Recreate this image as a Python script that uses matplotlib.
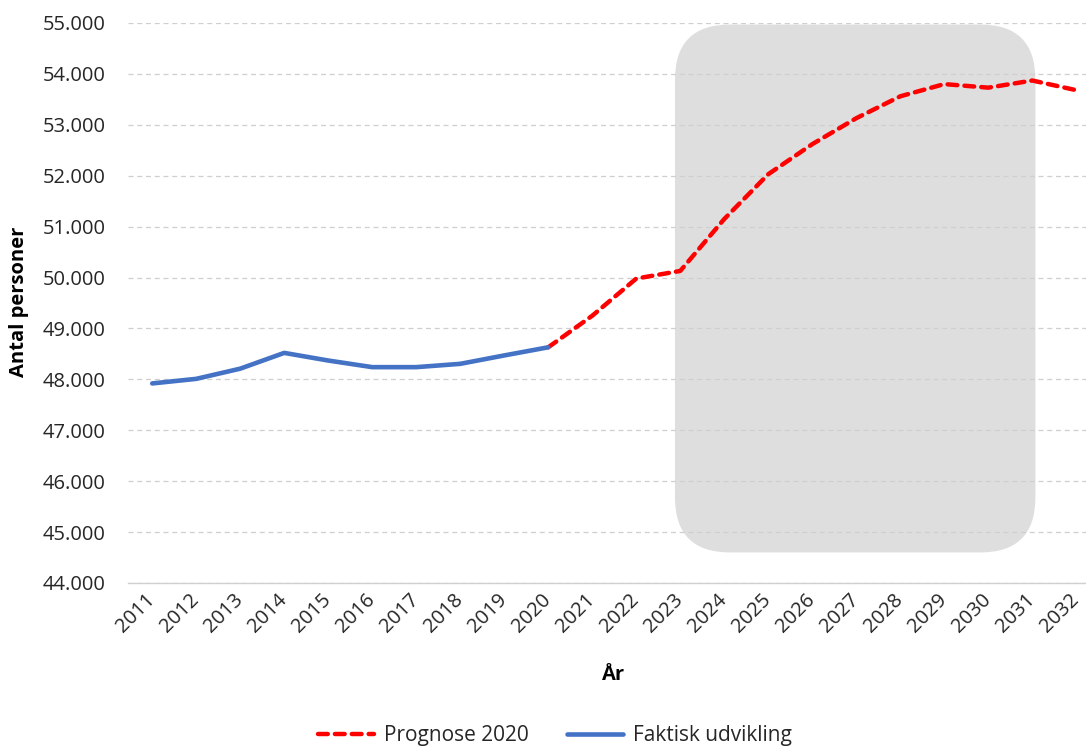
import matplotlib
matplotlib.use("Agg")
import matplotlib.pyplot as plt
from matplotlib.patches import FancyBboxPatch
from matplotlib.transforms import IdentityTransform
from matplotlib.ticker import FuncFormatter, MultipleLocator

# ---- data ----
years_actual = [2011, 2012, 2013, 2014, 2015, 2016, 2017, 2018, 2019, 2020]
actual = [47920, 48010, 48210, 48520, 48370, 48240, 48240, 48305, 48470, 48630]

years_prog = [2020, 2021, 2022, 2023, 2024, 2025, 2026, 2027, 2028, 2029, 2030, 2031, 2032]
prognose = [48630, 49250, 49980, 50130, 51150, 52030, 52620, 53130, 53560, 53800, 53730, 53870, 53680]

all_years = list(range(2011, 2033))
label_prog = "Prognose 2020"
label_actual = "Faktisk udvikling"
xlabel = "År"
ylabel = "Antal personer"

# highlighted period (gray box), data coordinates
box_x = (2022.88, 2031.07)
box_y = (44600, 54970)

plt.rcParams['font.family'] = ['Open Sans', 'DejaVu Sans']

W, H = 1086, 747
fig = plt.figure(figsize=(W / 100, H / 100), dpi=100)
ax = fig.add_axes([128 / W, 1 - 583 / H, (1086 - 128) / W, (583 - 23) / H])

ax.set_xlim(2010.45, 2032.22)
ax.set_ylim(44000, 55000)

FS = 14.5
ax.yaxis.set_major_locator(MultipleLocator(1000))
ax.yaxis.set_major_formatter(FuncFormatter(lambda v, p: f"{int(v):,}".replace(",", ".")))
ax.set_xticks(all_years)
ax.set_xticklabels([str(y) for y in all_years], rotation=45, ha='right', va='center',
                   rotation_mode='anchor', fontsize=FS, color='#262626')
ax.tick_params(axis='y', labelsize=FS, colors='#262626', length=0, pad=16)
ax.tick_params(axis='x', length=0, pad=10)

for s in ['top', 'right', 'left']:
    ax.spines[s].set_visible(False)
ax.spines['bottom'].set_color('#d0d0d0')
ax.spines['bottom'].set_linewidth(1.0)

ax.grid(axis='y', color='#cfcfcf', linestyle=(0, (4, 3)), linewidth=0.9, zorder=1)
ax.set_axisbelow(True)

# gray rounded box in display coords
(x0, y0) = ax.transData.transform((box_x[0], box_y[0]))
(x1, y1) = ax.transData.transform((box_x[1], box_y[1]))
r = 55
box = FancyBboxPatch((x0 + r, y0 + r), (x1 - x0) - 2 * r, (y1 - y0) - 2 * r,
                     boxstyle=f"round,pad={r},rounding_size={r}",
                     facecolor='#dedede', edgecolor='none')
ax.add_artist(box)
box.set_transform(IdentityTransform())
box.set_zorder(0.2)
box.set_clip_on(False)

ax.plot(years_prog, prognose, color='#ff0000', linewidth=3.2, linestyle=(0, (2.2, 1.6)),
        dash_capstyle='round', solid_capstyle='round', label=label_prog, zorder=3)
ax.plot(years_actual, actual, color='#4472c4', linewidth=3.3, solid_capstyle='round',
        solid_joinstyle='round', label=label_actual, zorder=4)

ax.set_xlabel(xlabel, fontsize=FS, fontweight='bold', color='#000000')
ax.set_ylabel(ylabel, fontsize=FS, fontweight='bold', color='#000000')
ax.xaxis.set_label_coords((614 - 128) / (1086 - 128), -(665 - 583) / (583 - 23))
ax.yaxis.set_label_coords(-(128 - 29) / (1086 - 128), (583 - 302) / (583 - 23))

leg = fig.legend(loc='center', bbox_to_anchor=(555 / W, 1 - 736 / H), ncol=2, frameon=False,
                 fontsize=15, handlelength=2.7, columnspacing=1.8, handletextpad=0.5)
for t in leg.get_texts():
    t.set_color('#262626')

fig.savefig('out.png', dpi=100)
